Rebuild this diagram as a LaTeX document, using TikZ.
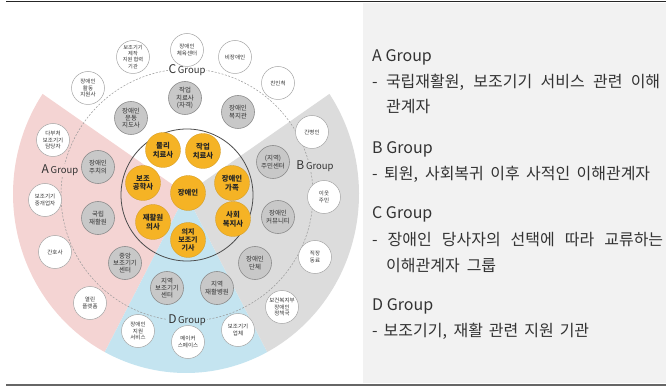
\documentclass[tikz,border=0pt]{standalone}
\usepackage{fontspec}
\setmainfont{Noto Sans CJK KR}
\definecolor{pinkA}{HTML}{F4D4D3}
\definecolor{grayB}{HTML}{DCDCDC}
\definecolor{blueD}{HTML}{C4E4F0}
\definecolor{orangeC}{HTML}{F5B325}
\definecolor{midgray}{HTML}{C8C8C8}
\definecolor{panel}{HTML}{F2F2F2}
\tikzset{
 wc/.style={circle, draw=black!35, line width=0.5pt, fill=white, minimum size=33pt, inner sep=0pt, align=center, font=\fontsize{5.5}{6.3}\selectfont, text=black!80},
 gc/.style={circle, draw=black!45, line width=0.6pt, fill=midgray, minimum size=33pt, inner sep=0pt, align=center, font=\fontsize{6.5}{7.4}\selectfont, text=black!80},
 oc/.style={circle, fill=orangeC, draw=orangeC!85!black, line width=0.3pt, minimum size=35pt, inner sep=0pt, align=center, font=\bfseries\fontsize{7.4}{8.8}\selectfont, text=black!85},
 grp/.style={inner sep=1pt, text=black!80},
 rtext/.style={anchor=west, inner sep=0pt, font=\fontsize{16}{18}\selectfont, text=black!80},
}
\newcommand{\grplabel}[1]{{\fontsize{12}{12}\selectfont #1}\,{\fontsize{9.5}{10}\selectfont Group}}
\begin{document}
\begin{tikzpicture}[x=1pt,y=-1pt]
\useasboundingbox (0,0) rectangle (666,387);
\fill[panel] (363,3) rectangle (666,383);
\draw[line width=1.8pt, black!85] (6,1.5) -- (666,1.5);
\draw[line width=1.5pt, black!60] (6,385) -- (666,385);
% sectors
\coordinate (O) at (186,194);
\fill[pinkA] (O) -- ++(146:173pt and 179pt) arc[start angle=146,end angle=242,x radius=173pt,y radius=179pt] -- cycle;
\fill[blueD] (O) -- ++(242:173pt and 179pt) arc[start angle=242,end angle=298,x radius=173pt,y radius=179pt] -- cycle;
\fill[grayB] (O) -- ++(298:173pt and 179pt) arc[start angle=298,end angle=394,x radius=173pt,y radius=179pt] -- cycle;
\coordinate (C) at (187,195);
\draw[black!40, line width=0.5pt, dash pattern=on 2pt off 1.5pt] (C) circle[radius=126pt];
\draw[black!70, line width=0.8pt] (C) circle[radius=66pt];
% group labels
\node[grp, fill=white] (cg) at (187,70) {\grplabel{C}};
\node[grp, fill=pinkA] (ag) at (60,170) {\grplabel{A}};
\node[grp, fill=grayB] (bg) at (315,166) {\grplabel{B}};
\node[grp, fill=blueD] (dg) at (187,320) {\grplabel{D}};
% orange core
\node[oc] (o0) at (188,193) {장애인};
\node[oc] (o1) at (163,150) {물리\\치료사};
\node[oc] (o2) at (203,151) {작업\\치료사};
\node[oc] (o3) at (232,183) {장애인\\가족};
\node[oc] (o4) at (233,219) {사회\\복지사};
\node[oc, font=\bfseries\fontsize{7}{8}\selectfont] (o5) at (188,240) {의지\\보조기\\기사};
\node[oc] (o6) at (153,222) {재활원\\의사};
\node[oc] (o7) at (143,183) {보조\\공학사};
% gray ring
\node[gc] (g1) at (185,98) {작업\\치료사\\(자격)};
\node[gc] (g2) at (238,112) {장애인\\복지관};
\node[gc] (g3) at (273,162) {(지역)\\주민센터};
\node[gc] (g4) at (278,217) {장애인\\커뮤니티};
\node[gc] (g5) at (255,263) {장애인\\단체};
\node[gc] (g6) at (217,288) {지역\\재활병원};
\node[gc] (g7) at (167,288) {지역\\보조기기\\센터};
\node[gc] (g8) at (125,263) {중앙\\보조기기\\센터};
\node[gc] (g9) at (98,218) {국립\\재활원};
\node[gc] (g10) at (98,167) {장애인\\주치의};
\node[gc] (g11) at (131,118) {장애인\\운동\\지도사};
% white ring
\node[wc] (w1) at (187,50) {장애인\\체육센터};
\node[wc] (w2) at (235,57) {비장애인};
\node[wc] (w3) at (278,83) {친인척};
\node[wc] (w4) at (312,132) {간병인};
\node[wc] (w5) at (324,197) {이웃\\주민};
\node[wc] (w6) at (315,257) {직장\\동료};
\node[wc] (w7) at (282,307) {보건복지부\\장애인\\정책국};
\node[wc] (w8) at (238,330) {보조기기\\업체};
\node[wc] (w9) at (188,342) {메이커\\스페이스};
\node[wc] (w10) at (138,331) {장애인\\지원\\서비스};
\node[wc] (w11) at (90,303) {열린\\플랫폼};
\node[wc] (w12) at (55,252) {간호사};
\node[wc] (w13) at (45,200) {보조기기\\중개업자};
\node[wc] (w14) at (53,140) {다부처\\보조기기\\담당자};
\node[wc] (w15) at (88,88) {장애인\\활동\\지원사};
\node[wc, font=\fontsize{5.2}{6.1}\selectfont] (w16) at (133,57) {보조기기\\제작\\지원 협력\\기관};
% right panel text
\node[rtext] (ta) at (372,57) {A Group};
\node[rtext] (ta1) at (372,82) {\makebox[288pt][s]{- 국립재활원, 보조기기 서비스 관련 이해}};
\node[rtext] (ta2) at (386,107) {관계자};
\node[rtext] (tb) at (372,149) {B Group};
\node[rtext] (tb1) at (372,174) {\makebox[278pt][s]{- 퇴원, 사회복귀 이후 사적인 이해관계자}};
\node[rtext] (tc) at (372,214) {C Group};
\node[rtext] (tc1) at (372,240) {\makebox[291pt][s]{- 장애인 당사자의 선택에 따라 교류하는}};
\node[rtext] (tc2) at (386,266) {\makebox[110pt][s]{이해관계자 그룹}};
\node[rtext] (td) at (372,306) {D Group};
\node[rtext] (td1) at (372,331) {\makebox[217pt][s]{- 보조기기, 재활 관련 지원 기관}};
\end{tikzpicture}
\end{document}
